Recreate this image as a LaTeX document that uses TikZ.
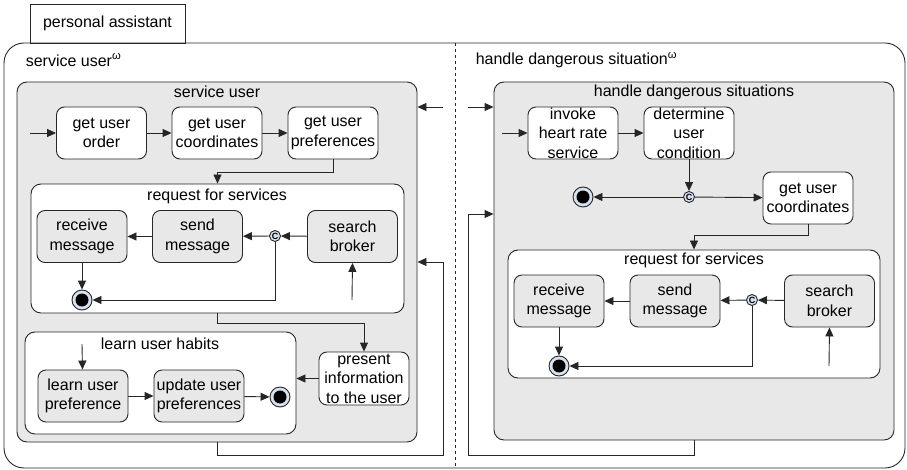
\documentclass[tikz,border=0pt]{standalone}
\usepackage{fontspec}
\setmainfont{Liberation Sans}
\usepackage{xcolor}
\usetikzlibrary{arrows.meta}
\definecolor{boxgray}{HTML}{E8E8E8}
\definecolor{ringblue}{HTML}{D6E2F0}

\begin{document}
\begin{tikzpicture}[x=1pt, y=-1pt,
      font=\fontsize{16}{19.5}\selectfont,
      line width=0.9pt, draw=black!85,
      every node/.style={align=center},
      arr/.style={-{Triangle[length=9pt,width=8pt]}},
      state/.style={draw, rounded corners=8pt, fill=white,
        minimum width=90pt, minimum height=52pt, inner sep=1pt},
      gstate/.style={state, fill=boxgray},
      over/.style={label={center:#1}},
      region/.style={draw, rounded corners=10pt, fill=#1},
      choice/.style={circle, draw, fill=ringblue, inner sep=0pt,
        minimum size=11pt, font=\fontsize{9}{9}\selectfont\bfseries},
      final/.style={circle, draw, fill=ringblue, minimum size=20pt,
        path picture={\fill[black] (path picture bounding box.center) circle (6.5pt);}}]
  \useasboundingbox (0,0) rectangle (907,470);

  % frames
  \node[draw, minimum width=155pt, minimum height=39pt] (tab) at (107.5,23.5) {personal assistant};
  \node[draw, rounded corners=20pt, minimum width=901pt, minimum height=425pt] (pa) at (454.5,255.5) {};
  \draw[dashed, line width=0.7pt] (455,43) -- (455,468);
  \node[anchor=west] (sul) at (22,60) {service user\textsuperscript{ω}};
  \node[anchor=west] (hdl) at (472,60) {handle dangerous situation\textsuperscript{ω}};

  % service user
  \node[region=boxgray, minimum width=400pt, minimum height=360pt] (su) at (217,262) {};
  \node (sut) at (217,92) {service user};
  \node[region=white, minimum width=373pt, minimum height=129pt] (rq1) at (217.5,248.5) {};
  \node (rq1t) at (217,196) {request for services};
  \node[region=white, minimum width=271pt, minimum height=102pt] (learn) at (160.5,383) {};
  \node (learnt) at (160,344) {learn user habits};

  \node[state] (order) at (101.5,133) {get user\\order};
  \node[state] (coords) at (217,133) {get user\\coordinates};
  \node[state] (prefs) at (333,133) {get user\\preferences};
  \node[gstate] (recv) at (82,236.5) {receive\\message};
  \node[gstate] (send) at (197.5,236.5) {send\\message};
  \node[gstate] (broker) at (352.5,236.5) {search\\broker};
  \node[choice] (c1) at (275,236) {C};
  \node[final] (fin1) at (82,300) {};
  \node[state, minimum height=53pt, over={present\\information\\to the user}] (present) at (364,378.5) {};
  \node[gstate] (lpref) at (83,396) {learn user\\preference};
  \node[gstate] (update) at (199,396) {update user\\preferences};
  \node[final] (fin2) at (280,397) {};

  % handle dangerous situations
  \node[region=boxgray, minimum width=400pt, minimum height=358pt] (hd) at (694,261) {};
  \node (hdt) at (694,92) {handle dangerous situations};
  \node[region=white, minimum width=372pt, minimum height=128pt] (rq2) at (694,314) {};
  \node (rq2t) at (694,260) {request for services};

  \node[state, over={invoke\\heart rate\\service}] (invoke) at (573,133) {};
  \node[state, over={determine\\user\\condition}] (determine) at (689,133) {};
  \node[choice] (c2) at (689,197) {C};
  \node[final] (fin3) at (583,197) {};
  \node[state] (coords2) at (808,198) {get user\\coordinates};
  \node[gstate] (recv2) at (559,301) {receive\\message};
  \node[gstate] (send2) at (675,301) {send\\message};
  \node[gstate] (broker2) at (829.5,301) {search\\broker};
  \node[choice] (c3) at (752,300) {C};
  \node[final] (fin4) at (559,366) {};

  % connectors
  \coordinate (s1) at (30,133);
  \coordinate (b1) at (352,300);
  \coordinate (s2) at (82,344);
  \coordinate (r1) at (443,262);
  \coordinate (r2) at (443,107);
  \coordinate (l1) at (468,107);
  \coordinate (l2) at (468,214);
  \coordinate (s3) at (502,133);
  \coordinate (b2) at (829,366);

  \draw[arr] (s1) -- (order);
  \draw[arr] (order) -- (coords);
  \draw[arr] (coords) -- (prefs);
  \draw[arr] (prefs.south) -- ++(0,13) -| (rq1.north);
  \draw[arr] (broker) -- (c1);
  \draw[arr] (c1) -- (send);
  \draw[arr] (send) -- (recv);
  \draw[arr] (recv) -- (fin1);
  \draw[arr] (c1) |- (fin1);
  \draw[arr] (b1) -- (broker.south);
  \draw[arr] (rq1.south) -- ++(0,10) -| (present.north);
  \draw[arr] (present.west) -- (present.west -| learn.east);
  \draw[arr] (s2) -- (lpref);
  \draw[arr] (lpref) -- (update);
  \draw[arr] (update) -- (fin2);
  \draw[arr] (su.south) -- ++(0,13) -| (r1) -- (r1 -| su.east);
  \draw[arr] (r2) -- (r2 -| su.east);

  \draw[arr] (l1) -- (l1 -| hd.west);
  \draw[arr] (hd.south) -- ++(0,15) -| (l2) -- (l2 -| hd.west);
  \draw[arr] (s3) -- (invoke);
  \draw[arr] (invoke) -- (determine);
  \draw[arr] (determine) -- (c2);
  \draw[arr] (c2) -- (fin3);
  \draw[arr] (c2) -- (coords2);
  \draw[arr] (coords2.south) -- ++(0,11) -| (rq2.north);
  \draw[arr] (broker2) -- (c3);
  \draw[arr] (c3) -- (send2);
  \draw[arr] (send2) -- (recv2);
  \draw[arr] (recv2) -- (fin4);
  \draw[arr] (c3) |- (fin4);
  \draw[arr] (b2) -- (broker2.south);
\end{tikzpicture}
\end{document}
